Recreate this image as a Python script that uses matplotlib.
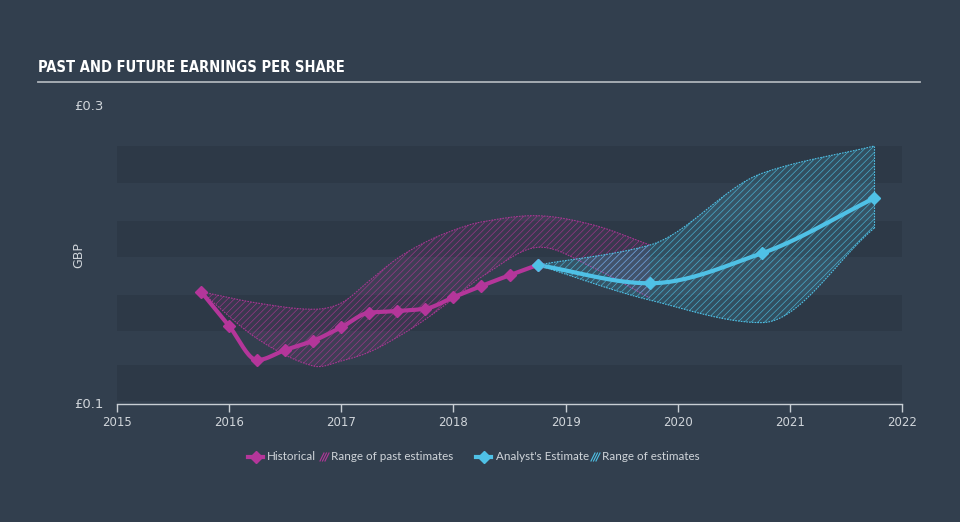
import numpy as np
import matplotlib
matplotlib.use("Agg")
import matplotlib.pyplot as plt
from matplotlib.lines import Line2D

# ---------------- data ----------------
hist_x = [2015.75, 2016.0, 2016.25, 2016.5, 2016.75, 2017.0, 2017.25, 2017.5,
          2017.75, 2018.0, 2018.25, 2018.5, 2018.75]
hist_y = [0.1756, 0.1525, 0.1296, 0.1364, 0.1426, 0.1517, 0.1615, 0.1626,
          0.1642, 0.1719, 0.1795, 0.1867, 0.1936]

past_rng_x = [2015.75, 2016.25, 2016.75, 2017.0, 2017.25, 2017.5, 2017.75, 2018.0,
              2018.25, 2018.75, 2019.25, 2019.75]
past_rng_lo = [0.1756, 0.1440, 0.1256, 0.1290, 0.1350, 0.1450, 0.1570, 0.1710,
               0.1855, 0.2055, 0.1916, 0.1714]
past_rng_hi = [0.1756, 0.1680, 0.1638, 0.1680, 0.1830, 0.1980, 0.2090, 0.2170,
               0.2226, 0.2268, 0.2205, 0.2071]

fc_x = [2018.75, 2019.75, 2020.75, 2021.75]
fc_y = [0.1936, 0.1813, 0.2015, 0.2385]
fc_lo = [0.1936, 0.1700, 0.1548, 0.2183]
fc_hi = [0.1936, 0.2070, 0.2553, 0.2737]

x_ticks = [2015, 2016, 2017, 2018, 2019, 2020, 2021, 2022]
y_ticks = [0.1, 0.3]
y_tick_labels = ["£0.1", "£0.3"]

title = "PAST AND FUTURE EARNINGS PER SHARE"

# ---------------- style ----------------
BG = "#323f4e"
BAND = "#2d3947"
MAG = "#b4369a"
CYA = "#4fc1e6"
TXT = "#d0d5da"


def monotone(x, y, n=40):
    """Monotone cubic (Fritsch-Carlson) curve through the given points."""
    x = np.asarray(x, float)
    y = np.asarray(y, float)
    h = np.diff(x)
    d = np.diff(y) / h
    m = np.zeros_like(y)
    m[0], m[-1] = d[0], d[-1]
    for i in range(1, len(y) - 1):
        if d[i - 1] * d[i] <= 0:
            m[i] = 0
        else:
            w1 = 2 * h[i] + h[i - 1]
            w2 = h[i] + 2 * h[i - 1]
            m[i] = (w1 + w2) / (w1 / d[i - 1] + w2 / d[i])
    xs, ys = [], []
    for i in range(len(x) - 1):
        t = np.linspace(0, 1, n, endpoint=(i == len(x) - 2))
        h00 = 2 * t**3 - 3 * t**2 + 1
        h10 = t**3 - 2 * t**2 + t
        h01 = -2 * t**3 + 3 * t**2
        h11 = t**3 - t**2
        xs.append(x[i] + t * h[i])
        ys.append(h00 * y[i] + h10 * h[i] * m[i] + h01 * y[i + 1] + h11 * h[i] * m[i + 1])
    return np.concatenate(xs), np.concatenate(ys)


def cardinal(x, y, n=40):
    """Catmull-Rom style curve through the given points."""
    x = np.asarray(x, float)
    y = np.asarray(y, float)
    m = np.zeros_like(y)
    m[1:-1] = (y[2:] - y[:-2]) / (x[2:] - x[:-2])
    m[0] = (y[1] - y[0]) / (x[1] - x[0])
    m[-1] = (y[-1] - y[-2]) / (x[-1] - x[-2])
    xs, ys = [], []
    for i in range(len(x) - 1):
        hh = x[i + 1] - x[i]
        t = np.linspace(0, 1, n, endpoint=(i == len(x) - 2))
        h00 = 2 * t**3 - 3 * t**2 + 1
        h10 = t**3 - 2 * t**2 + t
        h01 = -2 * t**3 + 3 * t**2
        h11 = t**3 - t**2
        xs.append(x[i] + t * hh)
        ys.append(h00 * y[i] + h10 * hh * m[i] + h01 * y[i + 1] + h11 * hh * m[i + 1])
    return np.concatenate(xs), np.concatenate(ys)


plt.rcParams["hatch.linewidth"] = 0.5
fig = plt.figure(figsize=(9.6, 5.22), dpi=100, facecolor=BG)

L, R = 117 / 960, 902 / 960
B, T = (522 - 404) / 522, (522 - 107) / 522
ax = fig.add_axes([L, B, R - L, T - B])
ax.set_facecolor(BG)
ax.set_xlim(2015, 2022)
ax.set_ylim(0.1, 0.3)

# background bands
for lo in [0.102, 0.149, 0.199, 0.249]:
    ax.axhspan(lo, lo + 0.0245, color=BAND, lw=0, zorder=0)

# past estimate range
px, plo = cardinal(past_rng_x, past_rng_lo)
_, phi = cardinal(past_rng_x, past_rng_hi)
ax.fill_between(px, plo, phi, facecolor=(0.71, 0.21, 0.6, 0.10),
                edgecolor=(0.71, 0.21, 0.6, 0.75), hatch="/////", lw=0, zorder=2)
ax.plot(px, plo, color=MAG, lw=0.8, ls=(0, (1.5, 1)), zorder=2, alpha=0.9)
ax.plot(px, phi, color=MAG, lw=0.8, ls=(0, (1.5, 1)), zorder=2, alpha=0.9)

# forecast range
fx, flo = monotone(fc_x, fc_lo)
_, fhi = monotone(fc_x, fc_hi)
ax.fill_between(fx, flo, fhi, facecolor=(0.31, 0.76, 0.9, 0.16),
                edgecolor=(0.31, 0.76, 0.9, 0.8), hatch="/////", lw=0, zorder=3)
ax.plot(fx, flo, color=CYA, lw=0.8, ls=(0, (1.5, 1)), zorder=3)
ax.plot(fx, fhi, color=CYA, lw=0.8, ls=(0, (1.5, 1)), zorder=3)
ax.plot([fc_x[-1], fc_x[-1]], [fc_lo[-1], fc_hi[-1]], color=CYA, lw=0.8,
        ls=(0, (1.5, 1)), zorder=3)

# lines
hx, hy = monotone(hist_x, hist_y, 20)
ax.plot(hx, hy, color=MAG, lw=3, zorder=5, solid_capstyle="round")
ax.plot(hist_x, hist_y, ls="none", marker="D", ms=6.5, color=MAG, zorder=6)
cx, cy = monotone(fc_x, fc_y)
ax.plot(cx, cy, color=CYA, lw=3, zorder=5)
ax.plot(fc_x, fc_y, ls="none", marker="D", ms=6.5, color=CYA, zorder=6)

# axes styling
for s in ["top", "right", "left"]:
    ax.spines[s].set_visible(False)
ax.spines["bottom"].set_color("#c8ced4")
ax.spines["bottom"].set_linewidth(1)
ax.set_xticks(x_ticks)
ax.set_xticklabels([str(t) for t in x_ticks])
ax.tick_params(axis="x", colors="#c8ced4", length=6, width=1, labelsize=8.5,
               labelcolor=TXT, pad=3)
ax.set_yticks(y_ticks)
ax.set_yticklabels(y_tick_labels)
ax.tick_params(axis="y", length=0, labelsize=9.5, labelcolor=TXT, pad=10)
for lab in ax.get_yticklabels():
    lab.set_verticalalignment("center")
ax.set_ylabel("GBP", color=TXT, fontsize=9, labelpad=14)
ax.yaxis.set_label_coords(-0.04, 0.5)

# title + rule
fig.text(38 / 960, 1 - 68 / 522, title, color="white", fontsize=10.5,
         fontweight="bold", family="DejaVu Sans", fontstretch="condensed",
         va="center", ha="left")
fig.add_artist(Line2D([38 / 960, 920 / 960], [1 - 82 / 522] * 2, color="#aeb4ba",
                      lw=1.3, transform=fig.transFigure))

# legend
ly = 1 - 457 / 522
def legend_marker(x0, color):
    fig.add_artist(Line2D([x0 / 960, (x0 + 15) / 960], [ly, ly], color=color, lw=3,
                          transform=fig.transFigure))
    fig.add_artist(Line2D([(x0 + 7.5) / 960], [ly], color=color, marker="D", ms=6.5,
                          transform=fig.transFigure, ls="none"))

def legend_hatch(x0, color):
    for k in range(3):
        xa = (x0 + k * 2.5) / 960
        fig.add_artist(Line2D([xa, xa + 4 / 960], [ly - 4 / 522, ly + 4 / 522],
                              color=color, lw=0.8, transform=fig.transFigure))

FS = 8.4
legend_marker(248, MAG)
fig.text(267 / 960, ly, "Historical", color=TXT, fontsize=FS, va="center", family="Lato")
legend_hatch(320, MAG)
fig.text(331 / 960, ly, "Range of past estimates", color=TXT, fontsize=FS, va="center",
         family="Lato")
legend_marker(476, CYA)
fig.text(496 / 960, ly, "Analyst's Estimate", color=TXT, fontsize=FS, va="center",
         family="Lato")
legend_hatch(591, CYA)
fig.text(602 / 960, ly, "Range of estimates", color=TXT, fontsize=FS, va="center",
         family="Lato")

fig.savefig("out.png", dpi=100, facecolor=BG)
